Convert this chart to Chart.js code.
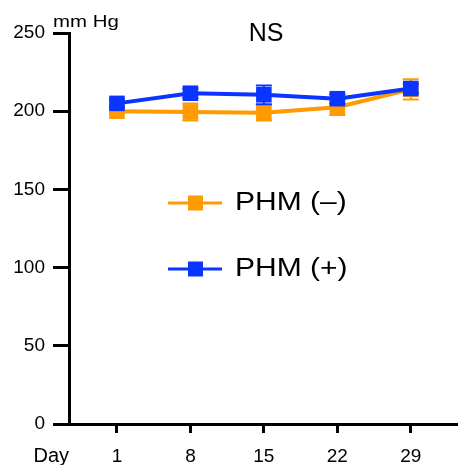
<!DOCTYPE html>
<html>
<head>
<meta charset="utf-8">
<script src="https://cdn.jsdelivr.net/npm/chart.js@4/dist/chart.umd.min.js"></script>
<style>
  html, body { margin: 0; padding: 0; background: #fff; }
  #wrap { width: 458px; height: 465px; }
</style>
</head>
<body>
<div id="wrap"><canvas id="bpChart" width="458" height="465"></canvas></div>
<script>
// dias de medida y presion (mm Hg), media y error
var dias = [1, 8, 15, 22, 29];
var etiquetas = ['PHM (\u2013)', 'PHM (+)'];
var phmMenos = [200, 199.5, 199, 202.5, 214];
var phmMenosErr = [2, 5.5, 5, 5, 6.5];
var phmMas = [205, 211.5, 210.5, 208, 214.5];
var phmMasErr = [2.5, 3, 6, 3, 3];
var ticksY = [0, 50, 100, 150, 200, 250];

var naranja = '#ff9a00';
var azul = '#0a34ff';
var fuente = '"Liberation Sans", Arial, Helvetica, sans-serif';

function puntos(valores) {
  return dias.map(function (d, i) { return { x: d, y: valores[i] }; });
}

// texto algo ensanchado en horizontal
function textoAncho(ctx, txt, x, y, escala) {
  ctx.save();
  ctx.translate(x, y);
  ctx.scale(escala, 1);
  ctx.fillText(txt, 0, 0);
  ctx.restore();
}

// barras de error, debajo de los marcadores de cada serie
var barrasError = {
  id: 'barrasError',
  beforeDatasetDraw: function (chart, args) {
    var ds = chart.data.datasets[args.index];
    if (!ds.errores) return;
    var ctx = chart.ctx;
    var sx = chart.scales.x, sy = chart.scales.y;
    ctx.save();
    ctx.strokeStyle = ds.borderColor;
    ctx.lineWidth = 2;
    ds.data.forEach(function (p, i) {
      var px = sx.getPixelForValue(p.x);
      var top = sy.getPixelForValue(p.y + ds.errores[i]);
      var bot = sy.getPixelForValue(p.y - ds.errores[i]);
      ctx.beginPath();
      ctx.moveTo(px, top); ctx.lineTo(px, bot);
      ctx.moveTo(px - 8, top); ctx.lineTo(px + 8, top);
      ctx.moveTo(px - 8, bot); ctx.lineTo(px + 8, bot);
      ctx.stroke();
    });
    ctx.restore();
  }
};

// textos sueltos y leyenda dentro del grafico
var textos = {
  id: 'textos',
  afterDraw: function (chart) {
    var ctx = chart.ctx;
    var area = chart.chartArea;
    ctx.save();
    ctx.fillStyle = '#000';
    ctx.textBaseline = 'alphabetic';
    ctx.textAlign = 'left';

    ctx.font = '17px ' + fuente;
    textoAncho(ctx, 'mm Hg', 53, 27, 1.2);

    ctx.font = '25px ' + fuente;
    ctx.textAlign = 'center';
    ctx.fillText('NS', 266, 41);

    ctx.font = '20px ' + fuente;
    ctx.textAlign = 'right';
    ctx.fillText('Day', area.left, 462);

    var filas = [203, 269];
    chart.data.datasets.forEach(function (ds, i) {
      var y = filas[i];
      ctx.strokeStyle = ds.borderColor;
      ctx.lineWidth = 3;
      ctx.beginPath();
      ctx.moveTo(168, y); ctx.lineTo(222, y);
      ctx.stroke();
      ctx.fillStyle = ds.borderColor;
      ctx.fillRect(188, y - 7.5, 15, 15);
      ctx.fillStyle = '#000';
      ctx.font = '25px ' + fuente;
      ctx.textAlign = 'left';
      textoAncho(ctx, ds.label, 235, y + 7, 1.2);
    });
    ctx.restore();
  }
};

var lienzo = document.getElementById('bpChart').getContext('2d');

new Chart(lienzo, {
  type: 'line',
  data: {
    datasets: [{
      label: etiquetas[0],
      data: puntos(phmMenos),
      errores: phmMenosErr,
      borderColor: naranja,
      backgroundColor: naranja,
      borderWidth: 4,
      pointStyle: 'rect',
      pointRadius: 11,
      pointBorderWidth: 0,
      order: 1
    }, {
      label: etiquetas[1],
      data: puntos(phmMas),
      errores: phmMasErr,
      borderColor: azul,
      backgroundColor: azul,
      borderWidth: 4,
      pointStyle: 'rect',
      pointRadius: 11,
      pointBorderWidth: 0,
      order: 0
    }]
  },
  options: {
    responsive: false,
    animation: false,
    layout: {
      autoPadding: false,
      padding: { top: 33, right: 0, left: 0, bottom: 0 }
    },
    plugins: {
      legend: { display: false },
      tooltip: { enabled: false }
    },
    scales: {
      x: {
        type: 'linear',
        min: -3.57,
        max: 33.5,
        afterBuildTicks: function (scale) {
          scale.ticks = dias.map(function (d) { return { value: d }; });
        },
        afterFit: function (scale) {
          scale.height = 41;
          scale.paddingLeft = 0;
          scale.paddingRight = 0;
        },
        grid: {
          drawOnChartArea: false,
          tickLength: 9,
          tickWidth: 3,
          tickColor: '#000'
        },
        border: { color: '#000', width: 3 },
        ticks: {
          color: '#000',
          padding: 12,
          maxRotation: 0,
          font: { family: fuente, size: 19 }
        }
      },
      y: {
        min: 0,
        max: 250,
        afterBuildTicks: function (scale) {
          scale.ticks = ticksY.map(function (v) { return { value: v }; });
        },
        afterFit: function (scale) { scale.width = 69; },
        grid: {
          drawOnChartArea: false,
          tickLength: 16,
          tickWidth: 3,
          tickColor: '#000'
        },
        border: { color: '#000', width: 3 },
        ticks: {
          color: '#000',
          padding: 8,
          font: { family: fuente, size: 19 }
        }
      }
    }
  },
  plugins: [barrasError, textos]
});
</script>
</body>
</html>
